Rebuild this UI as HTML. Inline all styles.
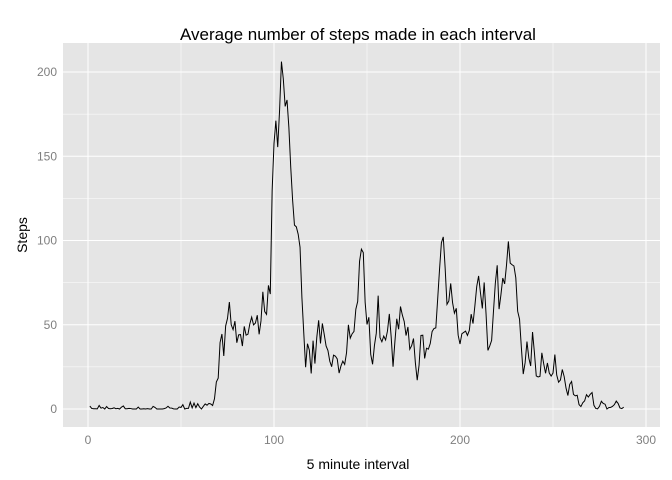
<!DOCTYPE html>
<html><head><meta charset="utf-8"><style>
body{margin:0;background:#fff}
svg{display:block;font-family:"Liberation Sans",sans-serif}
</style></head><body>
<svg id="chart" width="672" height="480">
<rect x="63" y="43" width="597" height="384" fill="#e5e5e5"/>
<g id="grid"></g><g id="ticks"></g>
<path id="line" fill="none" stroke="#000" stroke-width="1"/>
<text x="358" y="40" text-anchor="middle" font-size="17">Average number of steps made in each interval</text>
<text x="358" y="469" text-anchor="middle" font-size="14">5 minute interval</text>
<text transform="translate(27,235) rotate(-90)" text-anchor="middle" font-size="14">Steps</text>
</svg>
<script>
const steps=[1.72,0.34,0.13,0.15,0.08,2.09,0.53,0.87,0,1.47,0.3,0.13,0.32,0.68,0.15,0.34,0,1.11,1.83,0.17,0.17,0.38,0.26,0,0,0,1.13,0,0,0.13,0,0.23,0,0,1.55,0.94,0,0,0,0,0.21,0.62,1.62,0.58,0.49,0.08,0,0,1.19,0.94,2.57,0,0.34,0.36,4.11,0.66,3.49,0.83,3.11,1.11,0,1.57,3,2.25,3.32,2.96,2.09,6.06,16.02,18.34,39.45,44.49,31.49,49.26,53.77,63.45,49.96,47.08,52.15,39.34,44.02,44.17,37.36,49.04,43.81,44.38,50.51,54.51,49.92,50.98,55.68,44.32,52.26,69.55,57.85,56.15,73.38,68.21,129.43,157.53,171.15,155.4,177.3,206.17,195.92,179.57,183.4,167.02,143.45,124.04,109.11,108.11,103.72,95.96,66.21,45.23,24.79,38.75,34.98,21.06,40.57,26.98,42.42,52.66,38.92,50.79,44.28,37.42,34.7,28.34,25.09,31.94,31.36,29.68,21.32,25.55,28.38,26.47,33.43,49.98,42.04,44.6,46.04,59.19,63.87,87.7,94.85,92.77,63.4,50.17,54.47,32.42,26.53,37.74,45.06,67.28,42.34,39.89,43.26,40.98,46.25,56.43,42.75,25.13,39.96,53.55,47.32,60.81,55.75,51.96,43.58,48.7,35.47,37.55,41.85,27.51,17.11,26.08,43.62,43.77,30.02,36.08,35.49,38.85,45.96,47.75,48.13,65.32,82.91,98.66,102.11,83.96,62.13,64.13,74.55,63.17,56.91,59.77,43.87,38.57,44.66,45.45,46.21,43.68,46.62,56.3,50.72,61.23,72.72,78.94,68.94,59.66,75.09,56.51,34.77,37.45,40.68,58.02,74.7,85.32,59.26,67.77,77.7,74.25,85.34,99.45,86.58,85.6,84.87,77.83,58.04,53.36,36.32,20.72,27.4,40.02,30.21,25.55,45.66,33.53,19.62,19.02,19.34,33.34,26.81,21.17,27.3,21.34,19.55,21.32,32.3,20.15,15.94,17.23,23.45,19.25,12.45,8.02,14.66,16.3,8.68,7.79,8.13,2.62,1.45,3.68,4.81,8.51,7.08,8.7,9.75,2.21,0.32,0.11,1.6,4.6,3.3,2.85,0,0.83,0.96,1.58,2.6,4.7,3.3,0.64,0.23,1.08];
const xTicks=[0,100,200,300];
const yTicks=[0,50,100,150,200];
const xs=v=>88+v*1.86, ys=v=>409-v*1.685;
const NS="http://www.w3.org/2000/svg";
const grid=document.getElementById('grid'),tk=document.getElementById('ticks');
function ln(x1,y1,x2,y2,w,name){const l=document.createElementNS(NS,'line');l.setAttribute('x1',x1);l.setAttribute('y1',y1);l.setAttribute('x2',x2);l.setAttribute('y2',y2);l.setAttribute('stroke','#fff');l.setAttribute('stroke-width',w);


grid.appendChild(l);}
function tx(x,y,s,anchor,name){const t=document.createElementNS(NS,'text');t.setAttribute('x',x);t.setAttribute('y',y);t.setAttribute('text-anchor',anchor);t.setAttribute('font-size','12');t.setAttribute('fill','#7f7f7f');t.textContent=s;


tk.appendChild(t);}
for(let i=0;i<xTicks.length-1;i++){const m=(xTicks[i]+xTicks[i+1])/2;ln(xs(m),43,xs(m),427,0.5,'x-minor-grid');}
for(let i=0;i<yTicks.length;i++){const m=yTicks[i]+25;if(ys(m)>43)ln(63,ys(m),660,ys(m),0.5,'y-minor-grid');}
ln(63,ys(-25),660,ys(-25),0.5,'y-minor-grid');
xTicks.forEach(v=>{ln(xs(v),43,xs(v),427,1,'x-major-grid');tx(xs(v),444,v,'middle','x-tick-label');});
yTicks.forEach(v=>{ln(63,ys(v),660,ys(v),1,'y-major-grid');tx(57,ys(v)+4,v,'end','y-tick-label');});
let d='';steps.forEach((v,i)=>{d+=(i?'L':'M')+xs(i+1).toFixed(2)+','+ys(v).toFixed(2);});
document.getElementById('line').setAttribute('d',d);
</script>
</body></html>
